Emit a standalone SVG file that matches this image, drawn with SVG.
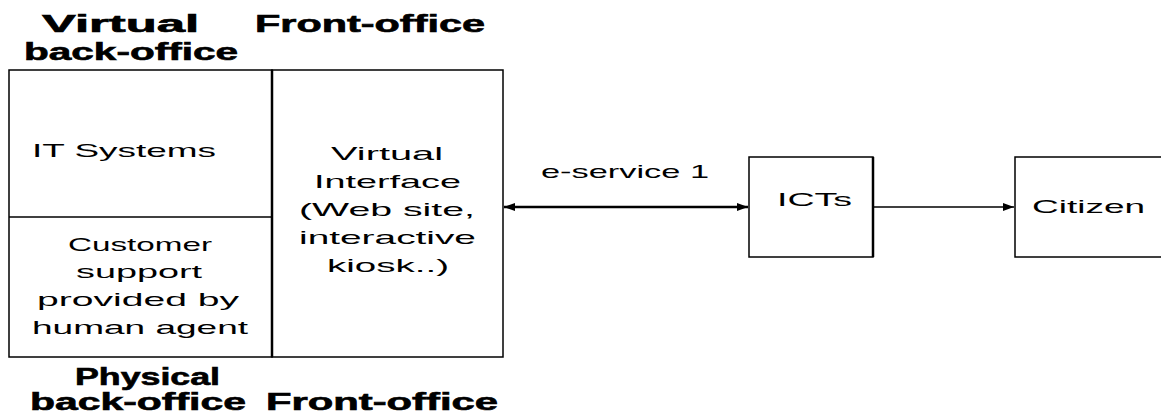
<svg xmlns="http://www.w3.org/2000/svg" width="1161" height="416" viewBox="0 0 1161 416">
<defs>
<style>
.box{fill:#fff;stroke:#000;stroke-width:1.5}
.thick{stroke:#000;stroke-width:2.5;fill:none}
.thin{stroke:#000;stroke-width:1.5;fill:none}
.h{font-family:"Liberation Sans",Arial,sans-serif;font-weight:bold;font-size:23px;fill:#000;stroke:#000;stroke-width:0.6}
.t{font-family:"Liberation Sans",Arial,sans-serif;font-size:19px;fill:#000}
</style>
<marker id="ah" markerUnits="userSpaceOnUse" markerWidth="12" markerHeight="10" refX="11" refY="4" orient="auto-start-reverse">
<path d="M0,0 L11,4 L0,8 Z" fill="#000"/>
</marker>
</defs>
<rect width="1161" height="416" fill="#fff"/>
<g id="headers">
<text class="h" x="42" y="32" textLength="157" lengthAdjust="spacingAndGlyphs">Virtual</text>
<text class="h" x="24" y="60" textLength="214" lengthAdjust="spacingAndGlyphs">back-office</text>
<text class="h" x="255" y="32" textLength="230" lengthAdjust="spacingAndGlyphs">Front-office</text>
<text class="h" x="75" y="385" textLength="145" lengthAdjust="spacingAndGlyphs">Physical</text>
<text class="h" x="30" y="410" textLength="216" lengthAdjust="spacingAndGlyphs">back-office</text>
<text class="h" x="266" y="410" textLength="232" lengthAdjust="spacingAndGlyphs">Front-office</text>
</g>
<g id="back-office">
<rect class="box" x="9" y="70" width="263" height="287"/>
<line class="thin" x1="9" y1="217" x2="272" y2="217"/>
<text class="t" x="32" y="157" textLength="184" lengthAdjust="spacingAndGlyphs">IT Systems</text>
<text class="t" x="68" y="251" textLength="144" lengthAdjust="spacingAndGlyphs">Customer</text>
<text class="t" x="76" y="278" textLength="126" lengthAdjust="spacingAndGlyphs">support</text>
<text class="t" x="37" y="306" textLength="202" lengthAdjust="spacingAndGlyphs">provided by</text>
<text class="t" x="32" y="334" textLength="216" lengthAdjust="spacingAndGlyphs">human agent</text>
</g>
<g id="front-office">
<rect class="box" x="272" y="70" width="231" height="287"/>
<line class="thick" x1="272" y1="70" x2="272" y2="357"/>
<text class="t" x="331" y="160" textLength="112" lengthAdjust="spacingAndGlyphs">Virtual</text>
<text class="t" x="314" y="188" textLength="147" lengthAdjust="spacingAndGlyphs">Interface</text>
<text class="t" x="299" y="216" textLength="176" lengthAdjust="spacingAndGlyphs">(Web site,</text>
<text class="t" x="299" y="244" textLength="177" lengthAdjust="spacingAndGlyphs">interactive</text>
<text class="t" x="327" y="272" textLength="122" lengthAdjust="spacingAndGlyphs">kiosk..)</text>
</g>
<g id="icts">
<rect class="box" x="749" y="157" width="124" height="100"/>
<line class="thick" x1="873" y1="157" x2="873" y2="257"/>
<text class="t" x="777" y="206" textLength="75" lengthAdjust="spacingAndGlyphs">ICTs</text>
</g>
<g id="citizen">
<rect class="box" x="1015" y="157" width="170" height="100"/>
<text class="t" x="1032" y="213" textLength="113" lengthAdjust="spacingAndGlyphs">Citizen</text>
</g>
<g id="connectors">
<line class="thick" x1="504" y1="207" x2="748" y2="207" marker-start="url(#ah)" marker-end="url(#ah)"/>
<line class="thin" x1="874" y1="207" x2="1014" y2="207" marker-end="url(#ah)"/>
<text class="t" x="541" y="178" textLength="168" lengthAdjust="spacingAndGlyphs">e-service 1</text>
</g>
</svg>
